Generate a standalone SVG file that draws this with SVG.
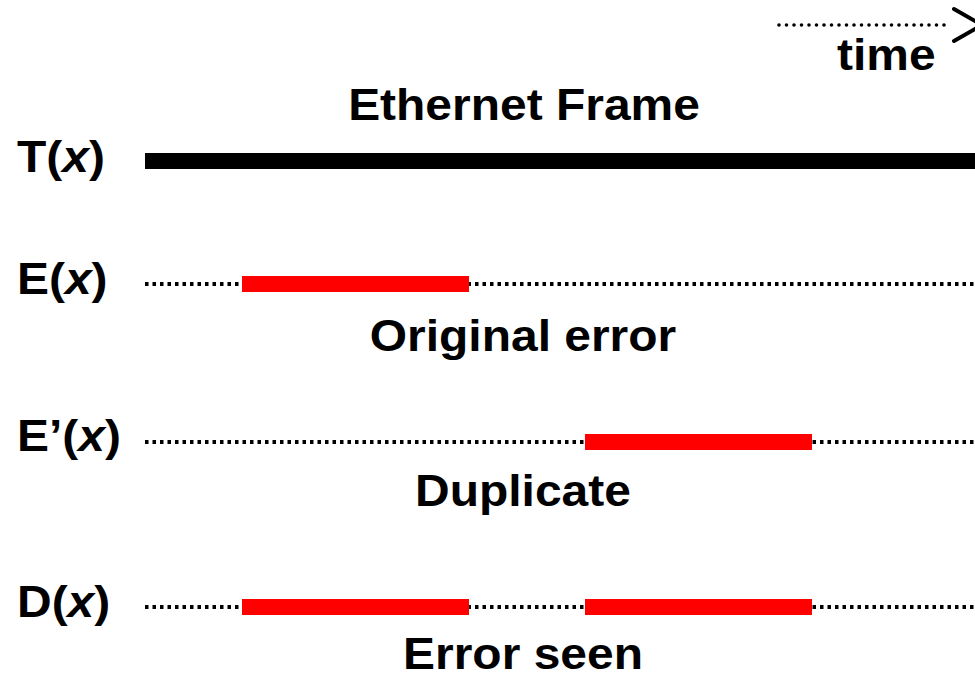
<svg xmlns="http://www.w3.org/2000/svg" width="975" height="673" viewBox="0 0 975 673">
  <style>
    .lbl { font-family: "Liberation Sans", Arial, sans-serif; font-weight: bold; font-size: 44px; fill: #000; }
    .cap { text-anchor: middle; }
    .dotted { stroke: #000; stroke-width: 4; stroke-dasharray: 3.5 4; fill: none; }
    .err { fill: #ff0000; }
  </style>
  <rect width="975" height="673" fill="#fff"/>

  <!-- time axis -->
  <g id="time-axis">
    <line x1="779" y1="25" x2="950" y2="25" stroke="#000" stroke-width="3.6" stroke-linecap="round" stroke-dasharray="0 7.5"/>
    <polyline points="954,9 982,25 954,41" fill="none" stroke="#000" stroke-width="4" stroke-linecap="round" stroke-linejoin="round"/>
    <text class="lbl" transform="translate(837,70) scale(1.09,1)">time</text>
  </g>

  <!-- transmitted frame -->
  <g id="frame">
    <text class="lbl cap" transform="translate(524,120) scale(1.09,1)">Ethernet Frame</text>
    <text class="lbl" transform="translate(17,172) scale(1.09,1)">T(<tspan font-style="italic">x</tspan>)</text>
    <rect x="145" y="153" width="830" height="16" fill="#000"/>
  </g>

  <!-- original error pattern -->
  <g id="original">
    <text class="lbl" transform="translate(17,294) scale(1.09,1)">E(<tspan font-style="italic">x</tspan>)</text>
    <line class="dotted" x1="145" y1="284" x2="975" y2="284"/>
    <rect class="err" x="242" y="276" width="227" height="16"/>
    <text class="lbl cap" transform="translate(523,351) scale(1.09,1)">Original error</text>
  </g>

  <!-- duplicated error pattern -->
  <g id="duplicate">
    <text class="lbl" transform="translate(17,451) scale(1.09,1)">E’(<tspan font-style="italic">x</tspan>)</text>
    <line class="dotted" x1="145" y1="442" x2="975" y2="442"/>
    <rect class="err" x="585" y="434" width="227" height="16"/>
    <text class="lbl cap" transform="translate(523,506) scale(1.09,1)">Duplicate</text>
  </g>

  <!-- combined error pattern -->
  <g id="seen">
    <text class="lbl" transform="translate(17,617) scale(1.09,1)">D(<tspan font-style="italic">x</tspan>)</text>
    <line class="dotted" x1="145" y1="607" x2="975" y2="607"/>
    <rect class="err" x="242" y="599" width="227" height="16"/>
    <rect class="err" x="585" y="599" width="227" height="16"/>
    <text class="lbl cap" transform="translate(523,669) scale(1.09,1)">Error seen</text>
  </g>
</svg>
